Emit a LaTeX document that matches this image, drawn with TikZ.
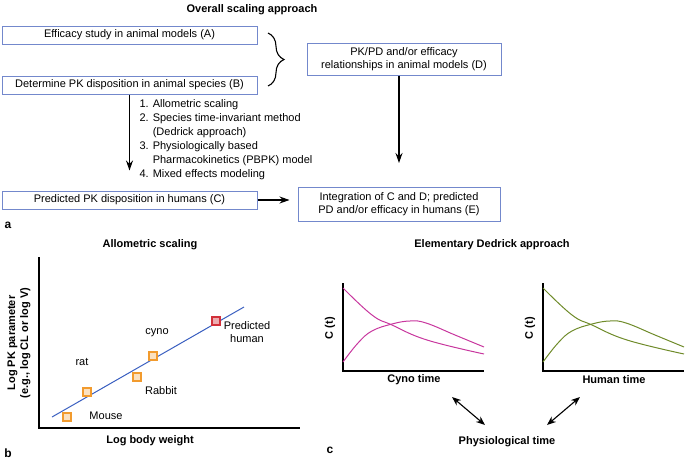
\documentclass[tikz,border=0pt]{standalone}
\usepackage{fontspec}
\setmainfont{Liberation Sans}
\usetikzlibrary{arrows.meta, positioning, calc, decorations.pathreplacing}

\definecolor{boxblue}{HTML}{7388CC}
\definecolor{fitblue}{HTML}{3A5FC0}
\definecolor{ptorange}{HTML}{F29B2E}
\definecolor{ptred}{HTML}{D2303A}
\definecolor{cynomag}{HTML}{C8379E}
\definecolor{humgreen}{HTML}{6F8B2A}

\begin{document}
\begin{tikzpicture}[
        x=1pt, y=-1pt,
        font=\fontsize{11}{13}\selectfont,
        stepbox/.style={rectangle, draw=boxblue, line width=1pt, fill=white, minimum height=18pt, align=center, inner sep=2pt},
        arr/.style={draw, line width=1.1pt, -{Stealth[length=10pt, width=7pt]}},
        dblarr/.style={draw, line width=1.1pt, {Stealth[length=9pt, width=7pt]}-{Stealth[length=9pt, width=7pt]}},
        ptsq/.style={rectangle, draw=ptorange, line width=1.2pt, fill=ptorange!30!white, minimum size=8pt, inner sep=0pt},
        predsq/.style={rectangle, draw=ptred, line width=1.2pt, fill=ptred!40!white, minimum size=8pt, inner sep=0pt},
        boldlbl/.style={font=\fontsize{11}{13}\selectfont\bfseries, align=center},
        panel/.style={font=\fontsize{12}{13}\selectfont\bfseries}
    ]
        \useasboundingbox (0,0) rectangle (685,461);

        % Panel a: overall scaling approach
        \node[boldlbl] (titleA) at (252,10) {Overall scaling approach};
        \node[stepbox, minimum width=255pt] (effA) at (129.5,35) {Efficacy study in animal models (A)};
        \node[stepbox, minimum width=255pt] (pkB) at (129.5,85) {Determine PK disposition in animal species (B)};
        \node[stepbox, minimum width=255pt] (predC) at (129.5,200) {Predicted PK disposition in humans (C)};
        \node[stepbox, minimum width=194pt, minimum height=32pt] (pkpdD) at (404,59) {PK/PD and/or efficacy\\relationships in animal models (D)};
        \node[stepbox, minimum width=202pt, minimum height=34pt] (intE) at (399,204.5) {Integration of C and D; predicted\\PD and/or efficacy in humans (E)};

        \node[anchor=north west, align=left, font=\fontsize{11}{14}\selectfont] (methods) at (136,96)
            {1. Allometric scaling\\
             2. Species time-invariant method\\
             \phantom{2. }(Dedrick approach)\\
             3. Physiologically based\\
             \phantom{3. }Pharmacokinetics (PBPK) model\\
             4. Mixed effects modeling};

        % Brace joining A and B
        \coordinate (braceTop) at (268,33);
        \coordinate (braceBot) at (268,86);
        \draw[line width=1.1pt, decorate, decoration={brace, amplitude=16pt, aspect=0.5}] (braceTop) -- (braceBot);

        % Connections
        \draw[arr, shorten >=20pt] (pkB.south) -- (predC.north);
        \draw[arr, shorten >=24pt] (pkpdD.south -| intE.north) -- (intE.north);
        \draw[arr, shorten >=8pt] (predC.east) -- (predC.east -| intE.west);

        \node[panel] (lblA) at (8,225) {a};

        % Panel b: allometric scaling
        \node[boldlbl] (titleB) at (150,245) {Allometric scaling};
        \draw[line width=1.2pt] (39,257) -- (39,428) -- (300,428);
        \node[boldlbl, rotate=90] (ylabB) at (19,343) {Log PK parameter\\(e.g., log CL or log V)};
        \node[boldlbl] (xlabB) at (150,441) {Log body weight};

        \coordinate (fitStart) at (52,417);
        \coordinate (fitEnd) at (244,307);
        \draw[fitblue, line width=1pt] (fitStart) -- (fitEnd);

        \node[ptsq] (mouse) at (67,417) {};
        \node[ptsq] (rat) at (87,392) {};
        \node[ptsq] (rabbit) at (137,377) {};
        \node[ptsq] (cyno) at (153,356) {};
        \node[predsq] (human) at (216,321) {};

        \node (mouseLbl) at (106,416) {Mouse};
        \node (ratLbl) at (82,362) {rat};
        \node (rabbitLbl) at (161,391) {Rabbit};
        \node (cynoLbl) at (157,333) {cyno};
        \node[align=center] (humanLbl) at (247,332) {Predicted\\human};

        \node[panel] (lblB) at (8,453) {b};

        % Panel c: elementary Dedrick approach
        \node[boldlbl] (titleC) at (492,245) {Elementary Dedrick approach};
        \foreach \dx/\col/\name in {0/cynomag/Cyno, 200/humgreen/Human} {
            \begin{scope}[xshift=\dx]
                \draw[line width=1.2pt] (343,283) -- (343,371) -- (484,371);
                \draw[\col, line width=1pt] plot[smooth, tension=0.7] coordinates {(343,288) (372,315) (392,325) (427,340) (484,354)};
                \draw[\col, line width=1pt] plot[smooth, tension=0.7] coordinates {(343,362) (358,343) (372,331) (392,324) (410,321) (426,323) (455,335) (484,347)};
                \node[boldlbl, rotate=90] at (330,328) {C (t)};
                \node[boldlbl] at (414,380) {\name{} time};
            \end{scope}
        }

        \node[boldlbl] (physT) at (507,442) {Physiological time};
        \coordinate (cynoEnd) at (452,397);
        \coordinate (physL) at (485,425);
        \coordinate (physR) at (547,425);
        \coordinate (humanEnd) at (580,397);
        \draw[dblarr] (cynoEnd) -- (physL);
        \draw[dblarr] (physR) -- (humanEnd);

        \node[panel] (lblC) at (330,450) {c};
    \end{tikzpicture}
\end{document}
